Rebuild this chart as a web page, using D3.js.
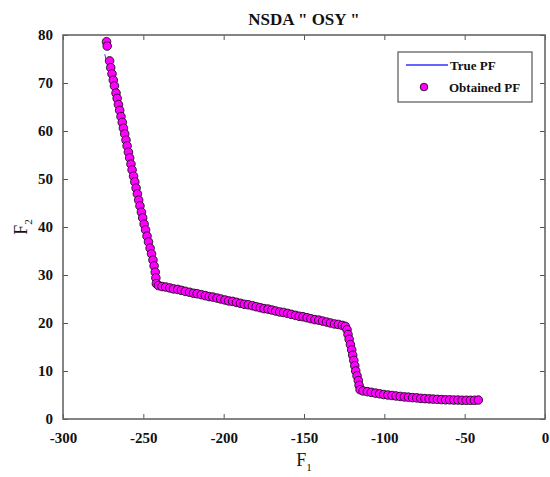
<!DOCTYPE html>
<html>
<head>
<meta charset="utf-8">
<title>NSDA OSY</title>
<script type="text/javascript" src="https://cdn.jsdelivr.net/npm/d3@7/dist/d3.min.js"></script>
<style>
body { margin: 0; background: #fff; }
.tick text { font-family: "Liberation Serif", "Times New Roman", serif; font-weight: bold; font-size: 15px; fill: #111; }
.tick line { stroke: #555; }
</style>
</head>
<body>
<div id="chart"></div>
<script type="text/javascript">
// obtained front (F1, F2)
var obtF1 = [-272.9, -272.5, -271.0, -270.3, -269.5, -268.7, -268.0, -267.0, -266.3, -265.5,
             -264.7, -263.9, -263.1, -262.4, -261.6, -260.8, -260.1, -259.3, -258.5, -257.7,
             -257.0, -256.1, -255.3, -254.5, -253.7, -252.9, -252.1, -251.2, -250.4, -249.5,
             -248.6, -247.7, -246.8, -245.8, -244.9, -244.0, -243.3, -242.6, -242.2, -241.9,
             -240.6, -238.4, -236.1, -233.5, -231.2, -228.6, -226.3, -223.9, -221.2, -218.8,
             -216.5, -213.9, -211.4, -209.0, -206.7, -204.1, -201.8, -199.2, -196.9, -194.4,
             -192.0, -189.5, -187.2, -184.7, -182.1, -179.8, -177.3, -174.9, -172.4, -170.0,
             -167.6, -165.1, -162.7, -160.2, -157.9, -155.3, -153.0, -150.6, -148.1, -145.7,
             -143.2, -140.8, -138.4, -135.9, -133.5, -131.0, -128.6, -126.2, -124.3,
             -123.2, -122.6, -121.9, -121.1, -120.3, -119.7, -119.0, -118.4, -117.8, -117.0,
             -116.2, -115.7, -115.1,
             -113.2, -110.6, -108.1, -105.5, -102.9, -100.4, -97.8, -95.2, -92.7, -90.1,
             -87.5, -85.0, -82.4, -79.8, -77.3, -74.7, -72.1, -69.6, -67.0, -64.4,
             -61.9, -59.3, -56.7, -54.2, -51.6, -49.0, -46.4, -43.9, -41.5];
var obtF2 = [78.6, 77.7, 74.6, 73.2, 71.9, 70.6, 69.4, 67.9, 66.8, 65.5,
             64.3, 63.0, 61.8, 60.6, 59.4, 58.1, 56.9, 55.6, 54.4, 53.1,
             51.9, 50.6, 49.4, 48.1, 46.9, 45.6, 44.4, 43.1, 41.9, 40.6,
             39.4, 38.1, 36.9, 35.6, 34.4, 33.1, 31.9, 30.6, 29.4, 28.2,
             27.8, 27.6, 27.5, 27.3, 27.1, 27.0, 26.8, 26.6, 26.4, 26.2,
             26.1, 25.9, 25.7, 25.5, 25.4, 25.2, 25.0, 24.8, 24.6, 24.5,
             24.3, 24.1, 23.9, 23.8, 23.6, 23.4, 23.2, 23.0, 22.9, 22.7,
             22.5, 22.3, 22.2, 22.0, 21.8, 21.6, 21.4, 21.3, 21.1, 20.9,
             20.7, 20.6, 20.4, 20.2, 20.0, 19.8, 19.7, 19.5, 19.3,
             18.6, 17.6, 16.6, 15.5, 14.4, 13.3, 12.2, 11.1, 10.0, 9.0,
             8.0, 7.0, 6.1,
             5.85, 5.7, 5.55, 5.4, 5.25, 5.1, 5.0, 4.9, 4.8, 4.7,
             4.6, 4.55, 4.45, 4.4, 4.3, 4.25, 4.2, 4.15, 4.1, 4.05,
             4.0, 4.0, 3.95, 3.95, 3.9, 3.9, 3.9, 3.9, 3.95];

// true front vertices
var trueF1 = [-274.0, -266.6, -259.5, -251.5, -245.5, -242.2, -241.6, -196.0, -123.6, -122.6,
              -120.3, -118.3, -116.2, -115.2, -112.0, -86.0, -67.0, -41.5];
var trueF2 = [76.0, 66.1, 56.0, 43.0, 34.4, 29.0, 27.9, 24.5, 19.3, 17.6,
              14.4, 10.9, 8.1, 6.0, 5.8, 4.6, 4.1, 3.95];

var xTicks = [-300, -250, -200, -150, -100, -50, 0];
var yTicks = [0, 10, 20, 30, 40, 50, 60, 70, 80];

var svgWidth = 550, svgHeight = 477;
var margin = {top: 35, right: 5, bottom: 58, left: 63};
var width = svgWidth - margin.left - margin.right,
    height = svgHeight - margin.top - margin.bottom;

var x = d3.scaleLinear().domain([-300, 0]).range([0, width]);
var y = d3.scaleLinear().domain([0, 80]).range([height, 0]);

// plain hyphen minus like the original
var plain = function(d) { return String(d); };

var svg = d3.select("#chart").append("svg")
    .attr("width", svgWidth)
    .attr("height", svgHeight);

var g = svg.append("g")
    .attr("transform", "translate(" + margin.left + "," + margin.top + ")");

// axes with inward ticks
g.append("g")
    .attr("transform", "translate(0," + height + ")")
    .call(d3.axisBottom(x).tickValues(xTicks).tickFormat(plain).tickSize(-5).tickPadding(13).tickSizeOuter(0));
g.append("g")
    .call(d3.axisTop(x).tickValues(xTicks).tickSize(-5).tickFormat("").tickSizeOuter(0));
g.append("g")
    .call(d3.axisLeft(y).tickValues(yTicks).tickFormat(plain).tickSize(-5).tickPadding(10).tickSizeOuter(0));
g.append("g")
    .attr("transform", "translate(" + width + ",0)")
    .call(d3.axisRight(y).tickValues(yTicks).tickSize(-5).tickFormat("").tickSizeOuter(0));
g.selectAll(".domain").remove();

g.append("rect")
    .attr("width", width)
    .attr("height", height)
    .attr("fill", "none")
    .attr("stroke", "#666")
    .attr("stroke-width", 1.6);

// true PF line
var line = d3.line()
    .x(function(i) { return x(trueF1[i]); })
    .y(function(i) { return y(trueF2[i]); });
g.append("path")
    .attr("d", line(d3.range(trueF1.length)))
    .attr("fill", "none")
    .attr("stroke", "#3333ff")
    .attr("stroke-width", 1);

// obtained PF markers
g.selectAll(".pt")
    .data(d3.range(obtF1.length))
    .enter()
    .append("circle")
    .attr("class", "pt")
    .attr("cx", function(i) { return x(obtF1[i]); })
    .attr("cy", function(i) { return y(obtF2[i]); })
    .attr("r", 4.3)
    .attr("fill", "#ff00ff")
    .attr("stroke", "#000")
    .attr("stroke-width", 0.8);

// title and labels
var serif = '"Liberation Serif", "Times New Roman", serif';
svg.append("text")
    .attr("x", margin.left + width / 2)
    .attr("y", 25)
    .attr("text-anchor", "middle")
    .style("font-family", serif)
    .style("font-size", "17px")
    .style("font-weight", "bold")
    .attr("fill", "#111")
    .text('NSDA " OSY "');

var xl = svg.append("text")
    .attr("x", margin.left + width / 2)
    .attr("y", 466)
    .attr("text-anchor", "middle")
    .style("font-family", serif)
    .style("font-size", "18px")
    .attr("fill", "#111");
xl.append("tspan").text("F");
xl.append("tspan").attr("dy", 5).style("font-size", "11px").text("1");

var yl = svg.append("text")
    .attr("transform", "translate(27," + (margin.top + height / 2) + ") rotate(-90)")
    .attr("text-anchor", "middle")
    .style("font-family", serif)
    .style("font-size", "18px")
    .attr("fill", "#111");
yl.append("tspan").text("F");
yl.append("tspan").attr("dy", 5).style("font-size", "11px").text("2");

// legend
var lg = svg.append("g").attr("transform", "translate(398,52)");
lg.append("rect")
    .attr("width", 134)
    .attr("height", 50)
    .attr("fill", "#fff")
    .attr("stroke", "#555")
    .attr("stroke-width", 1.2);
lg.append("line")
    .attr("x1", 8).attr("x2", 50)
    .attr("y1", 13).attr("y2", 13)
    .attr("stroke", "#3333ff")
    .attr("stroke-width", 1.5);
lg.append("circle")
    .attr("cx", 26).attr("cy", 35)
    .attr("r", 3.8)
    .attr("fill", "#ff00ff")
    .attr("stroke", "#000")
    .attr("stroke-width", 0.8);
lg.append("text")
    .attr("x", 52).attr("y", 18)
    .style("font-family", serif)
    .style("font-size", "13px")
    .style("font-weight", "bold")
    .attr("fill", "#111")
    .text("True PF");
lg.append("text")
    .attr("x", 51).attr("y", 40)
    .style("font-family", serif)
    .style("font-size", "13px")
    .style("font-weight", "bold")
    .attr("fill", "#111")
    .text("Obtained PF");
</script>
</body>
</html>
